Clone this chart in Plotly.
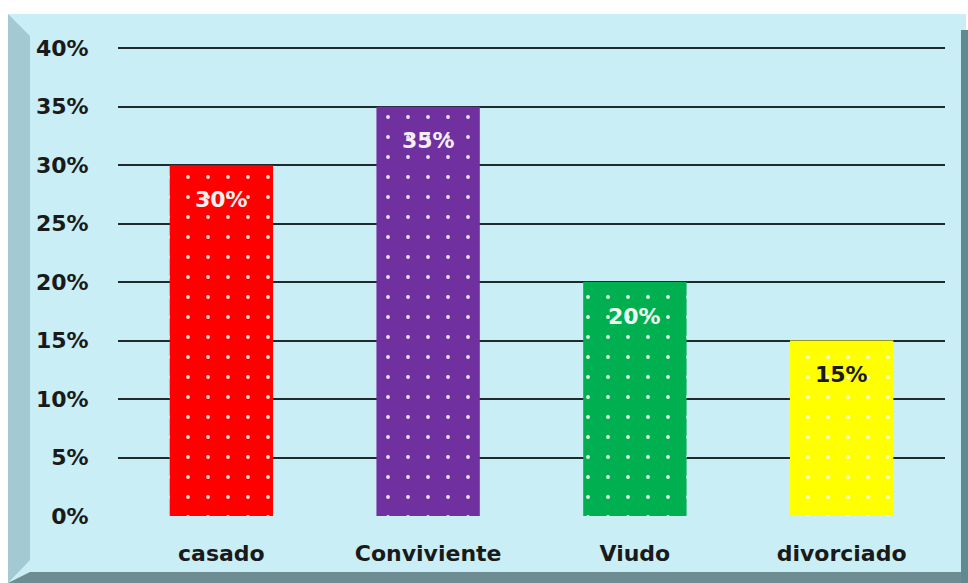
import plotly.graph_objects as go

categories = ["casado", "Conviviente", "Viudo", "divorciado"]
values = [0.30, 0.35, 0.20, 0.15]
labels = ["30%", "35%", "20%", "15%"]
bar_colors = ["#ff0000", "#7030a0", "#00b050", "#ffff00"]
label_colors = ["#f4f0f0", "#f4f0f4", "#eef8f0", "#1a1a1a"]
tick_vals = [0, 0.05, 0.10, 0.15, 0.20, 0.25, 0.30, 0.35, 0.40]

W, H = 968, 583
L, R, T, B = 118, 23, 47, 67
pw, ph = W - L - R, H - T - B

def px(x):
    return (x - L) / pw

def py(y):
    return (H - B - y) / ph

fig = go.Figure()
for c, v, col in zip(categories, values, bar_colors):
    fig.add_trace(go.Bar(
        x=[c], y=[v],
        width=0.5,
        marker=dict(
            color=col,
            line=dict(width=0),
            pattern=dict(shape=".", bgcolor=col, fgcolor="#ffffff",
                         fgopacity=0.85, size=20, solidity=0.03),
        ),
        hoverinfo="skip",
    ))

for c, v, t, col in zip(categories, values, labels, label_colors):
    fig.add_annotation(x=c, y=v, text="<b>%s</b>" % t, showarrow=False,
                       yanchor="middle", yshift=-34,
                       font=dict(family="DejaVu Sans", size=22, color=col))

shapes = [
    dict(type="rect", xref="paper", yref="paper", layer="below",
         x0=px(8), x1=px(966), y0=py(583), y1=py(14),
         fillcolor="#c9eef5", line=dict(width=0)),
    dict(type="path", xref="paper", yref="paper", layer="below",
         path="M %f %f L %f %f L %f %f L %f %f Z" % (px(8), py(14), px(30), py(36), px(30), py(560), px(8), py(583)),
         fillcolor="#a3cad3", line=dict(width=0)),
    dict(type="path", xref="paper", yref="paper", layer="below",
         path="M %f %f L %f %f L %f %f L %f %f Z" % (px(8), py(583), px(30), py(572), px(966), py(572), px(966), py(583)),
         fillcolor="#6e8d92", line=dict(width=0)),
    dict(type="rect", xref="paper", yref="paper", layer="below",
         x0=px(961), x1=px(968), y0=py(583), y1=py(30),
         fillcolor="#5f8a90", line=dict(width=0)),
]

tf = dict(family="DejaVu Sans", size=22, color="#1a1a1a", weight="bold")

fig.update_layout(
    width=W, height=H,
    margin=dict(l=L, r=R, t=T, b=B),
    paper_bgcolor="#ffffff",
    plot_bgcolor="rgba(0,0,0,0)",
    showlegend=False,
    barmode="overlay",
    shapes=shapes,
    font=dict(family="DejaVu Sans", size=22, color="#1a1a1a"),
    xaxis=dict(showgrid=False, showline=False, zeroline=False,
               categoryorder="array", categoryarray=categories,
               ticks="outside", ticklen=18, tickcolor="rgba(0,0,0,0)",
               tickfont=tf),
    yaxis=dict(range=[0, 0.401], tickvals=tick_vals, tickformat=".0%",
               showgrid=True, gridcolor="#1e2a2c", gridwidth=1.5,
               zeroline=True, zerolinecolor="rgba(0,0,0,0)",
               showline=False,
               ticks="outside", ticklen=24, tickcolor="rgba(0,0,0,0)",
               tickfont=tf),
)

fig.write_html("out.html", config={"displayModeBar": False},
               post_script="document.body.style.margin='0';document.body.style.overflow='hidden';")
